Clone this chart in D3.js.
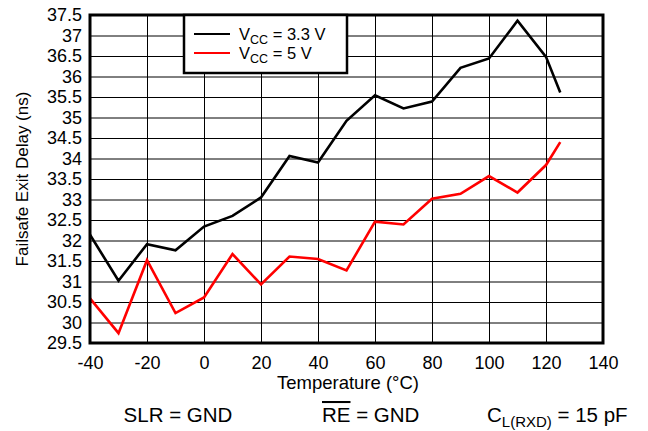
<!DOCTYPE html>
<html>
<head>
<meta charset="utf-8">
<script src="https://cdn.jsdelivr.net/npm/d3@7"></script>
<style>
  body { margin: 0; background: #fff; }
  text { font-family: "Liberation Sans", Arial, sans-serif; fill: #000; }
</style>
</head>
<body>
<div id="chart"></div>
<script>
// Chart data
var temps = [-40, -30, -20, -10, 0, 10, 20, 30, 40, 50, 60, 70, 80, 90, 100, 110, 120, 125];
var vcc33 = [32.14, 31.02, 31.91, 31.76, 32.34, 32.60, 33.05, 34.06, 33.90, 34.92, 35.54, 35.22, 35.39, 36.21, 36.44, 37.36, 36.48, 35.61];
var vcc5 = [30.59, 29.74, 31.52, 30.23, 30.61, 31.67, 30.93, 31.61, 31.55, 31.27, 32.46, 32.39, 33.02, 33.14, 33.57, 33.17, 33.84, 34.40];
var xTicks = [-40, -20, 0, 20, 40, 60, 80, 100, 120, 140];
var yTicks = [29.5, 30, 30.5, 31, 31.5, 32, 32.5, 33, 33.5, 34, 34.5, 35, 35.5, 36, 36.5, 37, 37.5];

var svgWidth = 648;
var svgHeight = 431;

var margin = {top: 15, right: 45, bottom: 88, left: 90};
var width = svgWidth - margin.left - margin.right;   // 513
var height = svgHeight - margin.top - margin.bottom; // 328

var svg = d3.select("#chart")
  .append("svg")
  .attr("width", svgWidth)
  .attr("height", svgHeight);

var chartGroup = svg.append("g")
  .attr("transform", `translate(${margin.left}, ${margin.top})`);

// Scales
var xScale = d3.scaleLinear().domain([-40, 140]).range([0, width]);
var yScale = d3.scaleLinear().domain([29.5, 37.5]).range([height, 0]);

// Gridlines
var xGrid = chartGroup.append("g")
  .attr("transform", `translate(0, ${height})`)
  .call(d3.axisBottom(xScale).tickValues(xTicks).tickSize(-height).tickFormat(""));
var yGrid = chartGroup.append("g")
  .call(d3.axisLeft(yScale).tickValues(yTicks).tickSize(-width).tickFormat(""));
[xGrid, yGrid].forEach(function(g) {
  g.select(".domain").remove();
  g.selectAll("line").attr("stroke", "#000").attr("stroke-width", 1);
});

// Tick labels (plain hyphen for negatives, like the original)
var plain = function(d) { return String(d); };
var xAxis = chartGroup.append("g")
  .attr("transform", `translate(0, ${height})`)
  .call(d3.axisBottom(xScale).tickValues(xTicks).tickSize(0).tickPadding(13).tickFormat(plain));
var yAxis = chartGroup.append("g")
  .call(d3.axisLeft(yScale).tickValues(yTicks).tickSize(0).tickPadding(8).tickFormat(plain));
[xAxis, yAxis].forEach(function(g) {
  g.select(".domain").remove();
  g.selectAll("text").style("font-size", "18px").style("font-family", "'Liberation Sans', Arial, sans-serif");
});

// Lines
var line = d3.line()
  .x(function(d, i) { return xScale(temps[i]); })
  .y(function(d) { return yScale(d); });

chartGroup.append("path")
  .datum(vcc33)
  .attr("d", line)
  .attr("fill", "none")
  .attr("stroke", "#000")
  .attr("stroke-width", 2.6)
  .attr("stroke-linejoin", "miter");

chartGroup.append("path")
  .datum(vcc5)
  .attr("d", line)
  .attr("fill", "none")
  .attr("stroke", "#ff0000")
  .attr("stroke-width", 2.6)
  .attr("stroke-linejoin", "miter");

// Plot border
chartGroup.append("rect")
  .attr("x", 0)
  .attr("y", 0)
  .attr("width", width)
  .attr("height", height)
  .attr("fill", "none")
  .attr("stroke", "#000")
  .attr("stroke-width", 3);

// Legend
var legend = svg.append("g").attr("transform", "translate(184, 15)");
legend.append("rect")
  .attr("x", 0).attr("y", 0).attr("width", 163).attr("height", 58)
  .attr("fill", "#fff").attr("stroke", "#000").attr("stroke-width", 2.5);
var legendItems = [
  {color: "#000", label: " = 3.3 V"},
  {color: "#ff0000", label: " = 5 V"}
];
legendItems.forEach(function(item, i) {
  var y = 19 + i * 19;
  legend.append("line")
    .attr("x1", 10).attr("x2", 46).attr("y1", y).attr("y2", y)
    .attr("stroke", item.color).attr("stroke-width", 2.2);
  var t = legend.append("text")
    .attr("x", 55).attr("y", y + 6)
    .style("font-size", "16.5px");
  t.append("tspan").text("V");
  t.append("tspan").attr("dy", 4).style("font-size", "12.5px").text("CC");
  t.append("tspan").attr("dy", -4).text(item.label);
});

// Axis titles
svg.append("text")
  .attr("x", 348)
  .attr("y", 389)
  .attr("text-anchor", "middle")
  .style("font-size", "18.5px")
  .text("Temperature (°C)");

svg.append("text")
  .attr("transform", "rotate(-90)")
  .attr("x", -(margin.top + height / 2))
  .attr("y", 28)
  .attr("text-anchor", "middle")
  .style("font-size", "17px")
  .text("Failsafe Exit Delay (ns)");

// Conditions line
svg.append("text")
  .attr("x", 178).attr("y", 422)
  .attr("text-anchor", "middle")
  .style("font-size", "20.5px")
  .text("SLR = GND");

var re = svg.append("text")
  .attr("x", 322).attr("y", 422)
  .style("font-size", "20.5px");
re.append("tspan").style("text-decoration", "overline").text("RE");
re.append("tspan").text(" = GND");

var cl = svg.append("text")
  .attr("x", 487).attr("y", 422)
  .style("font-size", "20.5px");
cl.append("tspan").text("C");
cl.append("tspan").attr("dy", 5).style("font-size", "15px").text("L(RXD)");
cl.append("tspan").attr("dy", -5).text(" = 15 pF");
</script>
</body>
</html>
